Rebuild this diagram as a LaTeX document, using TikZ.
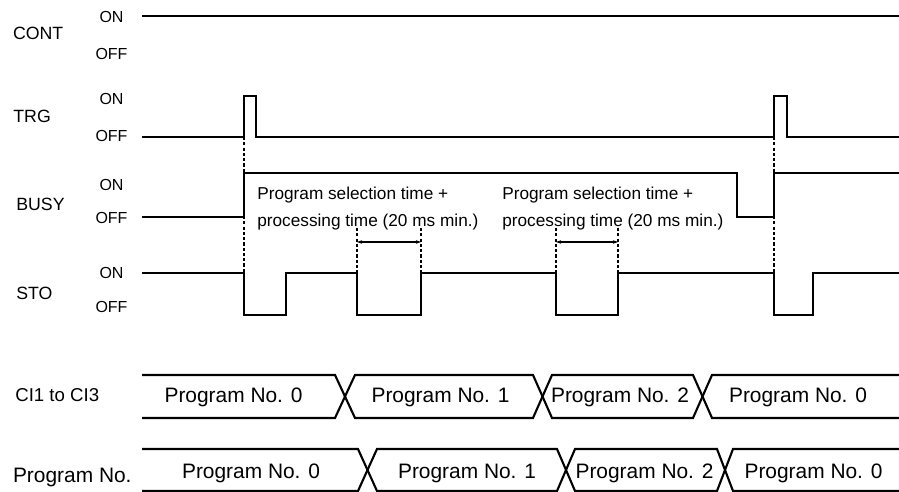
\documentclass[tikz,border=0pt]{standalone}
\usepackage{fontspec}
\setmainfont{Liberation Sans}
\usetikzlibrary{arrows.meta}

\begin{document}
\begin{tikzpicture}[x=0.02cm, y=-0.02cm,
  sig/.style={line width=1.2pt},
  guide/.style={line width=0.6pt, dash pattern=on 1.8pt off 1.2pt},
  dim/.style={{Stealth[length=1mm,width=0.7mm]}-{Stealth[length=1mm,width=0.7mm]}, line width=0.6pt},
  lab/.style={anchor=base west, inner sep=0pt, font=\fontsize{10.1}{12}\selectfont},
  lvl/.style={anchor=base, inner sep=0pt, font=\fontsize{9.1}{11}\selectfont},
  note/.style={anchor=base west, inner sep=0pt, font=\fontsize{9.8}{12}\selectfont},
  val/.style={anchor=base, inner sep=0pt, font=\fontsize{11.9}{14}\selectfont}
]
\useasboundingbox (0,0) rectangle (899,492);

% signal names
\node[lab] (cont) at (12.7,39.5) {CONT};
\node[lab] (trg) at (13,122.5) {TRG};
\node[lab] (busy) at (16,211) {BUSY};
\node[lab] (sto) at (16,300) {STO};
\node[lab, font=\fontsize{10.6}{12}\selectfont] (ci) at (15,402) {CI1 to CI3};
\node[val, anchor=base west] (prog) at (12.7,483) {Program No.};

% ON / OFF levels
\foreach \n/\yon/\yoff in {cont/23/60, trg/105/142, busy/191/224, sto/279/313} {
  \node[lvl] (\n-on) at (111.5,\yon) {ON};
  \node[lvl] (\n-off) at (111.5,\yoff) {OFF};
}

% waveforms
\draw[sig] (142,16) -- (899,16);
\draw[sig] (142,137) -- (244,137) -- (244,96) -- (256,96) -- (256,137) -- (774,137)
  -- (774,96) -- (787,96) -- (787,137) -- (899,137);
\draw[sig] (142,217) -- (244,217) -- (244,173) -- (737,173) -- (737,217) -- (774,217)
  -- (774,173) -- (899,173);
\draw[sig] (142,273) -- (244,273) -- (244,315) -- (286,315) -- (286,273) -- (357,273)
  -- (357,315) -- (421,315) -- (421,273) -- (556,273) -- (556,315) -- (618,315)
  -- (618,273) -- (774,273) -- (774,315) -- (813,315) -- (813,273) -- (899,273);

% timing guides
\draw[guide] (244,137) -- (244,273);
\draw[guide] (774,137) -- (774,273);
\foreach \x in {357,421,556,618}
  \draw[guide] (\x,228) -- (\x,273);

\coordinate (t1a) at (357,242);
\coordinate (t1b) at (421,242);
\coordinate (t2a) at (556,242);
\coordinate (t2b) at (618,242);
\draw[dim] (t1a) -- (t1b);
\draw[dim] (t2a) -- (t2b);

\node[note] (sel1) at (257,200) {Program selection time +};
\node[note] (proc1) at (257,227) {processing time (20 ms min.)};
\node[note] (sel2) at (502,200) {Program selection time +};
\node[note] (proc2) at (502,227) {processing time (20 ms min.)};

% CI1 to CI3 bus
\draw[sig] (142,375) -- (335,375) -- (355,418) -- (533,418) -- (552,375) -- (693,375)
  -- (712,418) -- (899,418);
\draw[sig] (142,418) -- (335,418) -- (355,375) -- (533,375) -- (552,418) -- (693,418)
  -- (712,375) -- (899,375);
\node[val] (ci-p0) at (233.5,403) {Program No. 0};
\node[val] (ci-p1) at (440.5,403) {Program No. 1};
\node[val] (ci-p2) at (620,403) {Program No. 2};
\node[val] (ci-p3) at (798,403) {Program No. 0};

% Program No. bus
\draw[sig] (142,449) -- (358,449) -- (377,491) -- (557,491) -- (575,449) -- (717,449)
  -- (733,491) -- (899,491);
\draw[sig] (142,491) -- (358,491) -- (377,449) -- (557,449) -- (575,491) -- (717,491)
  -- (733,449) -- (899,449);
\node[val] (pn-p0) at (251,479) {Program No. 0};
\node[val] (pn-p1) at (467,479) {Program No. 1};
\node[val] (pn-p2) at (644.5,479) {Program No. 2};
\node[val] (pn-p3) at (813.5,479) {Program No. 0};
\end{tikzpicture}
\end{document}
